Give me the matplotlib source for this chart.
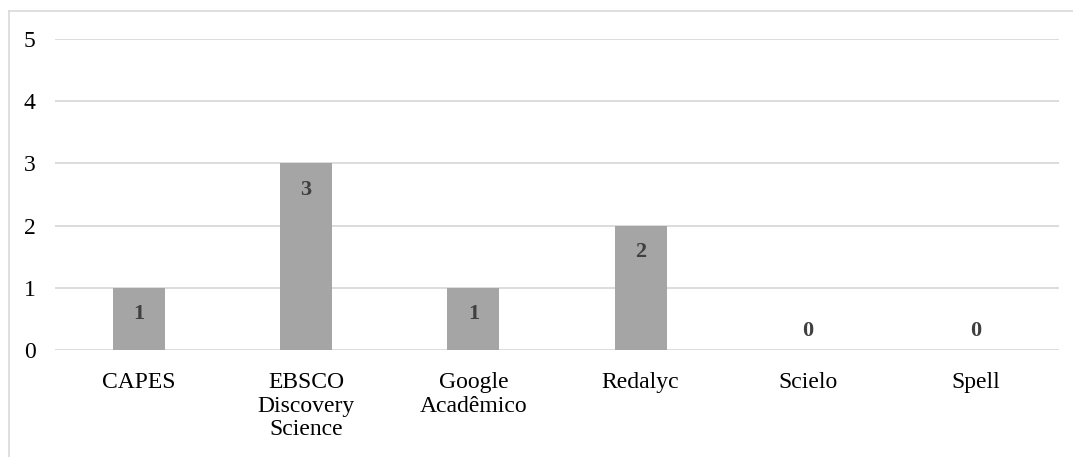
import matplotlib.pyplot as plt
from matplotlib.lines import Line2D

categories = ["CAPES", "EBSCO\nDiscovery\nScience", "Google\nAcadêmico", "Redalyc", "Scielo", "Spell"]
values = [1, 3, 1, 2, 0, 0]

plt.rcParams['font.family'] = ['Liberation Serif', 'DejaVu Serif']

W, H = 1073, 457
fig = plt.figure(figsize=(W / 100, H / 100), dpi=100)
ax = fig.add_axes([55 / W, 1 - 350 / H, (1059 - 55) / W, (350 - 39) / H])

x = range(len(categories))
ax.bar(x, values, width=0.31, color="#a5a5a5", zorder=2)

for xi, v in zip(x, values):
    off = -19 if v > 0 else 14
    ax.annotate(str(v), (xi, v), xytext=(0, off), textcoords="offset points",
                ha="center", va="center", fontsize=16, fontweight="bold", color="#404040")

ax.set_xlim(-0.5, len(categories) - 0.5)
ax.set_ylim(0, 5)
ax.set_yticks(range(6))
ax.set_xticks(list(x))
ax.set_xticklabels(categories, fontsize=17, linespacing=1.15)
ax.tick_params(axis="y", labelsize=17, length=0, pad=14)
ax.tick_params(axis="x", length=0, pad=16)
ax.grid(axis="y", color="#d9d9d9", linewidth=1.3, zorder=0)
for s in ax.spines.values():
    s.set_visible(False)

# outer chart border (top and left visible)
fig.add_artist(Line2D([9 / W, 9 / W], [0, 1 - 11 / H], transform=fig.transFigure, color="#d9d9d9", lw=1.2))
fig.add_artist(Line2D([9 / W, 1], [1 - 11 / H, 1 - 11 / H], transform=fig.transFigure, color="#d9d9d9", lw=1.2))

fig.savefig("out.png", dpi=100)
